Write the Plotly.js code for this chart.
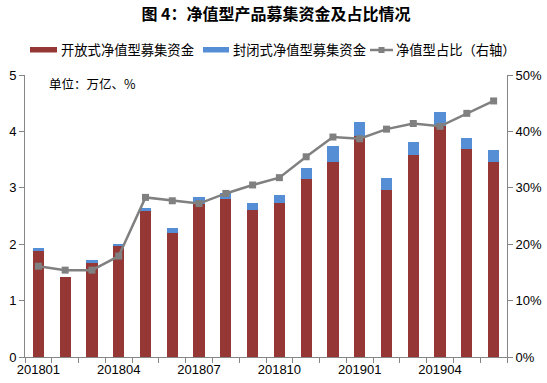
<!DOCTYPE html>
<html>
<head>
<meta charset="utf-8">
<script src="https://cdn.plot.ly/plotly-3.0.1.min.js"></script>
<style>html,body{margin:0;padding:0;background:#fff;}#chart{width:547px;height:383px;}</style>
</head>
<body>
<div id="chart"></div>
<script>
const months = ["201801","201802","201803","201804","201805","201806","201807","201808","201809","201810","201811","201812","201901","201902","201903","201904","201905","201906"];
const openFund = [1.88,1.41,1.67,1.97,2.59,2.20,2.71,2.81,2.61,2.73,3.16,3.46,3.92,2.96,3.59,4.10,3.69,3.46];
const closedFund = [0.05,0.01,0.05,0.04,0.05,0.09,0.12,0.10,0.12,0.14,0.19,0.28,0.25,0.21,0.22,0.24,0.19,0.21];
const share = [16.1,15.4,15.4,17.9,28.3,27.7,27.2,29.0,30.5,31.8,35.5,39.0,38.7,40.4,41.4,40.9,43.2,45.4];
const tickLabels = ["201801","201804","201807","201810","201901","201904"];
const seriesNames = ["开放式净值型募集资金", "封闭式净值型募集资金", "净值型占比（右轴）"];

const xIdx = months.map((m, i) => i);
const tickIdx = tickLabels.map(t => months.indexOf(t));
const font = "Liberation Sans, Arial, Noto Sans CJK SC, sans-serif";
const cjk = "Noto Sans CJK SC, sans-serif";
const axisColor = "#868686";
const colors = ["#953735", "#558ED5", "#808080"];

const traces = [
  {type: "bar", name: seriesNames[0], x: xIdx, y: openFund, marker: {color: colors[0]}, width: 0.42},
  {type: "bar", name: seriesNames[1], x: xIdx, y: closedFund, marker: {color: colors[1]}, width: 0.42},
  {type: "scatter", mode: "lines+markers", name: seriesNames[2], x: xIdx, y: share, yaxis: "y2",
   line: {color: colors[2], width: 2.5}, marker: {symbol: "square", size: 7, color: colors[2]}}
];

// plot area in pixels: left 25, right 507, top 75, bottom 357
const PX = px => (px - 25) / 482;
const PY = py => (357 - py) / 282;
const legY = 50;
const shapes = [
  {type: "rect", xref: "paper", yref: "paper", x0: PX(30), x1: PX(57), y0: PY(47), y1: PY(52.5), fillcolor: colors[0], line: {width: 0}},
  {type: "rect", xref: "paper", yref: "paper", x0: PX(203), x1: PX(229), y0: PY(47), y1: PY(52.5), fillcolor: colors[1], line: {width: 0}},
  {type: "line", xref: "paper", yref: "paper", x0: PX(370), x1: PX(393), y0: PY(legY), y1: PY(legY), line: {color: colors[2], width: 2.5}},
  {type: "rect", xref: "paper", yref: "paper", x0: PX(378.5), x1: PX(384.5), y0: PY(47), y1: PY(53), fillcolor: colors[2], line: {width: 0}}
];
const legX = [59, 230.5, 394];

const annotations = seriesNames.map((n, i) => ({
  text: n, xref: "paper", yref: "paper", x: PX(legX[i]), y: PY(legY), xanchor: "left", yanchor: "middle",
  showarrow: false, font: {family: cjk, size: 13.3, color: "#000"}
}));
annotations.push({text: "单位：万亿、%", xref: "paper", yref: "paper", x: PX(47), y: PY(83), xanchor: "left", yanchor: "middle", showarrow: false, font: {family: cjk, size: 12.5, color: "#000"}});

const layout = {
  width: 547, height: 383,
  margin: {l: 25, r: 40, t: 75, b: 26},
  paper_bgcolor: "#fff", plot_bgcolor: "#fff",
  barmode: "stack",
  showlegend: false,
  title: {text: "<b>图 4：净值型产品募集资金及占比情况</b>", font: {family: cjk, size: 16, color: "#000"}, x: 276/547, xanchor: "center", y: 1 - 14/383, yanchor: "middle", yref: "container"},
  xaxis: {
    type: "linear", range: [-0.5, 17.5], tickmode: "array", tickvals: tickIdx, ticktext: tickLabels,
    ticks: "", showgrid: false, zeroline: false, showline: true, linecolor: axisColor, linewidth: 1,
    tickfont: {family: font, size: 13, color: "#000"},
    minor: {tick0: -0.5, dtick: 1, ticks: "outside", ticklen: 5, tickcolor: axisColor, tickwidth: 1, showgrid: false}
  },
  yaxis: {
    range: [0, 5], dtick: 1, ticks: "outside", ticklen: 5, tickcolor: axisColor, showgrid: false, zeroline: false,
    showline: true, linecolor: axisColor, tickfont: {family: font, size: 13, color: "#000"}
  },
  yaxis2: {
    overlaying: "y", side: "right", range: [0, 50], dtick: 10, ticksuffix: "%", ticks: "outside", ticklen: 5,
    tickcolor: axisColor, showgrid: false, zeroline: false, showline: true, linecolor: axisColor,
    tickfont: {family: font, size: 13, color: "#000"}
  },
  shapes: shapes,
  annotations: annotations
};

Plotly.newPlot("chart", traces, layout, {displayModeBar: false, staticPlot: true});
</script>
</body>
</html>
